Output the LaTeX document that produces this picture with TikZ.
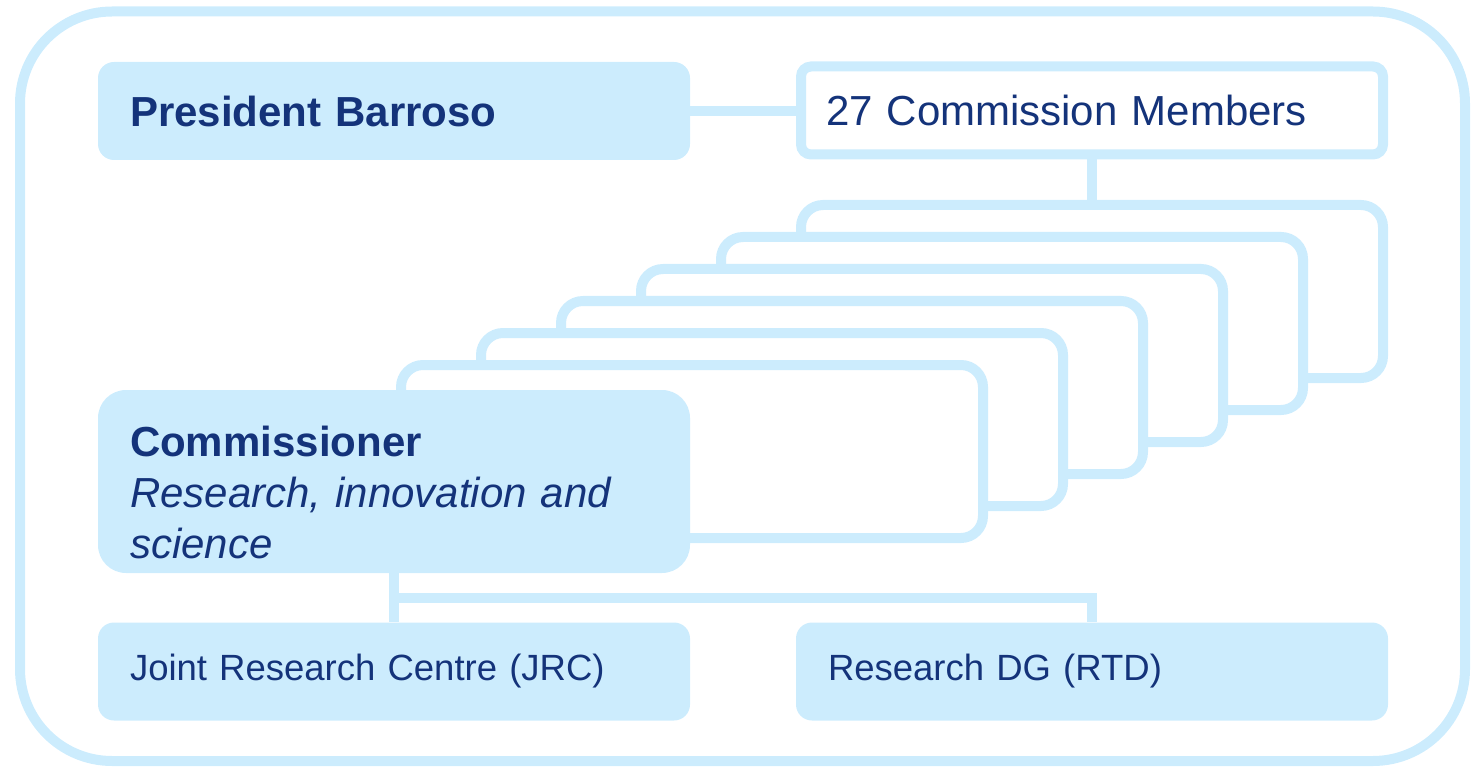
\documentclass[tikz,border=0pt]{standalone}
\usepackage{fontspec}
\setmainfont{Liberation Sans}
\definecolor{eulight}{RGB}{204,236,253}
\definecolor{eunavy}{RGB}{20,51,122}
\begin{document}
\begin{tikzpicture}[x=1pt, y=-1pt,
    big/.style={font=\fontsize{42}{51}\selectfont},
    small/.style={font=\fontsize{36.5}{44}\selectfont},
    fbox/.style={fill=eulight, text=eunavy, rounded corners=16, inner xsep=32, inner ysep=0, text width=528, minimum height=98, align=left},
    lbox/.style={draw=eulight, fill=white, text=eunavy, line width=10, rounded corners=10, inner xsep=25, inner ysep=0, text width=532, minimum height=88, align=left},
    link/.style={draw=eulight, line width=10}]
    \useasboundingbox (0,0) rectangle (1476,770);
    \draw[eulight, line width=10, rounded corners=92] (20,11.5) rectangle (1465,761);
    \node[fbox, big] (pres) at (394,111) {\bfseries President Barroso};
    \node[lbox, big] (members) at (1092,110.5) {27 Commission Members};
    \foreach \i in {0,...,5}{
        \node[lbox, rounded corners=22, minimum height=173] (card\i) at (1092-80*\i, 291.5+32*\i) {};
    }
    \node[fbox, big, rounded corners=28, minimum height=183] (comm) at (394,481.5)
        {\rule{0pt}{53pt}{\bfseries Commissioner}\\\itshape Research, innovation and\\science};
    \node[fbox, small] (jrc) at (394,671.5) {Joint Research Centre (JRC)};
    \node[fbox, small] (rtd) at (1092,671.5) {Research DG (RTD)};
    \coordinate (split) at (394,598);
    \draw[link] (pres.east) -- (pres.east -| members.west);
    \draw[link] (members.south) -- (card0.north);
    \draw[link] (comm.south) -- (jrc.north);
    \draw[link] (split) -| (rtd.north);
\end{tikzpicture}
\end{document}
